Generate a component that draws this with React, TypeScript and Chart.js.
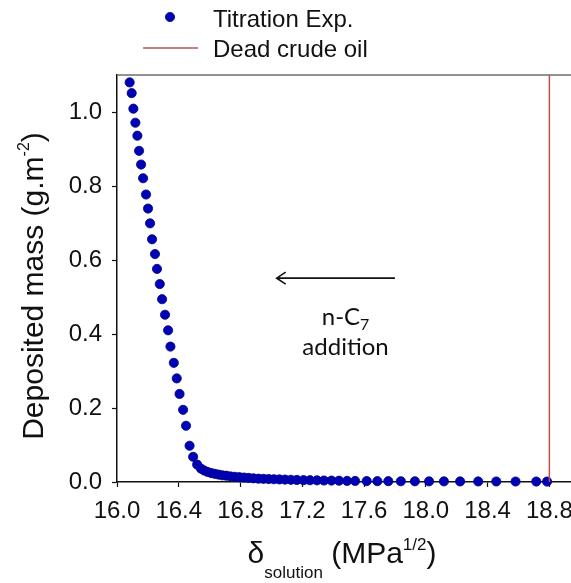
import React, { useEffect, useRef } from "react";
import { Chart, registerables } from "chart.js";

Chart.register(...registerables);

// Titration experiment: solubility parameter of the solution vs deposited mass
const titrationDelta = [
  16.082, 16.095, 16.106, 16.119, 16.132, 16.143, 16.156, 16.169, 16.188, 16.201,
  16.214, 16.227, 16.246, 16.259, 16.277, 16.292, 16.311, 16.331, 16.346, 16.368,
  16.387, 16.405, 16.428, 16.447, 16.47, 16.493, 16.519,
  16.544, 16.565, 16.588, 16.611, 16.634, 16.658, 16.682, 16.708, 16.735, 16.763,
  16.792, 16.822, 16.852, 16.883, 16.916, 16.948, 16.982, 17.016, 17.052, 17.088,
  17.126, 17.165, 17.208, 17.25, 17.295, 17.34, 17.389, 17.438, 17.49, 17.542,
  17.617, 17.686, 17.757, 17.838, 17.929, 18.021, 18.117, 18.222, 18.339, 18.456,
  18.581, 18.715, 18.785,
];
const titrationMass = [
  1.08, 1.051, 1.009, 0.971, 0.936, 0.895, 0.858, 0.821, 0.777, 0.739,
  0.699, 0.656, 0.616, 0.576, 0.535, 0.494, 0.452, 0.41, 0.366, 0.322,
  0.28, 0.238, 0.195, 0.152, 0.098, 0.068, 0.047,
  0.036, 0.031, 0.027, 0.024, 0.022, 0.02, 0.018, 0.017, 0.015, 0.014,
  0.013, 0.012, 0.011, 0.01, 0.009, 0.0085, 0.008, 0.0075, 0.007, 0.0065,
  0.006, 0.0055, 0.005, 0.0048, 0.0045, 0.004, 0.0038, 0.0035, 0.003, 0.0028,
  0.0025, 0.0023, 0.0022, 0.002, 0.0019, 0.0018, 0.0017, 0.0016, 0.0015, 0.0014,
  0.0013, 0.0012, 0.0012,
];

// Dead crude oil reference line
const deadOilDelta = [18.8, 18.8];
const deadOilMass = [0, 1.1];

const xTickValues = [16.0, 16.4, 16.8, 17.2, 17.6, 18.0, 18.4, 18.8];
const yTickValues = [0.0, 0.2, 0.4, 0.6, 0.8, 1.0];

const SANS = "'Liberation Sans', Arial, sans-serif";
const NOTE_FONT = "Lato, 'Open Sans', sans-serif";
const DOT_FILL = "#0000B4";
const DOT_EDGE = "#000088";
const OIL_RED = "#C0504D";

type Run = { text: string; size: number; shift: number };

// draws a run of text pieces (normal / sub / superscript) starting at x
function drawRuns(ctx: CanvasRenderingContext2D, runs: Run[], x: number, baseline: number) {
  let cx = x;
  for (const r of runs) {
    ctx.font = `${r.size}px ${SANS}`;
    ctx.fillText(r.text, cx, baseline + r.shift);
    cx += ctx.measureText(r.text).width;
  }
}
function runsWidth(ctx: CanvasRenderingContext2D, runs: Run[]) {
  let w = 0;
  for (const r of runs) {
    ctx.font = `${r.size}px ${SANS}`;
    w += ctx.measureText(r.text).width;
  }
  return w;
}

const decorations = {
  id: "decorations",
  afterDraw(chart: any) {
    const { ctx, chartArea, scales } = chart;
    const xs = scales.x;
    const ys = scales.y;
    ctx.save();

    // top frame
    ctx.strokeStyle = "#6e6e6e";
    ctx.lineWidth = 1.5;
    ctx.beginPath();
    ctx.moveTo(chartArea.left, chartArea.top);
    ctx.lineTo(chartArea.right, chartArea.top);
    ctx.stroke();

    // legend
    ctx.fillStyle = DOT_FILL;
    ctx.strokeStyle = DOT_EDGE;
    ctx.lineWidth = 0.8;
    ctx.beginPath();
    ctx.arc(170, 17, 4.6, 0, Math.PI * 2);
    ctx.fill();
    ctx.stroke();
    ctx.strokeStyle = OIL_RED;
    ctx.lineWidth = 1.5;
    ctx.beginPath();
    ctx.moveTo(143, 48);
    ctx.lineTo(198, 48);
    ctx.stroke();
    ctx.fillStyle = "#111";
    ctx.textBaseline = "alphabetic";
    ctx.textAlign = "left";
    ctx.font = `24px ${SANS}`;
    ctx.fillText("Titration Exp.", 213, 27);
    ctx.fillText("Dead crude oil", 213, 57);

    // n-C7 addition arrow
    const ay = ys.getPixelForValue(0.551);
    const ax0 = xs.getPixelForValue(17.8);
    const ax1 = xs.getPixelForValue(17.034);
    ctx.strokeStyle = "#111";
    ctx.lineWidth = 1.6;
    ctx.beginPath();
    ctx.moveTo(ax0, ay);
    ctx.lineTo(ax1, ay);
    ctx.moveTo(ax1 + 9, ay - 6);
    ctx.lineTo(ax1, ay);
    ctx.lineTo(ax1 + 9, ay + 6);
    ctx.stroke();

    const cx = xs.getPixelForValue(17.48);
    ctx.fillStyle = "#111";
    ctx.font = `24px ${NOTE_FONT}`;
    const main = "n-C";
    const wMain = ctx.measureText(main).width;
    ctx.font = `16px ${NOTE_FONT}`;
    const wSub = ctx.measureText("7").width;
    const start = cx - (wMain + wSub) / 2;
    const b1 = ys.getPixelForValue(0.425);
    ctx.font = `24px ${NOTE_FONT}`;
    ctx.fillText(main, start, b1);
    ctx.font = `16px ${NOTE_FONT}`;
    ctx.fillText("7", start + wMain, b1 + 5);
    ctx.font = `24px ${NOTE_FONT}`;
    ctx.textAlign = "center";
    ctx.fillText("addition", cx, ys.getPixelForValue(0.344));
    ctx.textAlign = "left";

    // x axis title, centred under the axis
    const xRuns: Run[] = [
      { text: "\u03b4", size: 30, shift: 0 },
      { text: "solution", size: 17, shift: 15 },
      { text: " (MPa", size: 30, shift: 0 },
      { text: "1/2", size: 17, shift: -13 },
      { text: ")", size: 30, shift: 0 },
    ];
    const xw = runsWidth(ctx, xRuns);
    drawRuns(ctx, xRuns, 342 - xw / 2, 563);

    // y axis title, centred along the axis
    const yRuns: Run[] = [
      { text: "Deposited mass (g.m", size: 30, shift: 0 },
      { text: "-2", size: 16, shift: -14 },
      { text: ")", size: 30, shift: 0 },
    ];
    const yw = runsWidth(ctx, yRuns);
    ctx.translate(43, 286);
    ctx.rotate(-Math.PI / 2);
    drawRuns(ctx, yRuns, -yw / 2, 0);

    ctx.restore();
  },
};

export default function App() {
  const ref = useRef<HTMLCanvasElement | null>(null);

  useEffect(() => {
    document.body.style.margin = "0";
    const canvas = ref.current;
    if (!canvas) return;

    const tickFont = { family: SANS, size: 24 };
    const chart = new Chart(canvas, {
      type: "scatter",
      data: {
        datasets: [
          {
            type: "line",
            label: "Dead crude oil",
            data: deadOilDelta.map((x, i) => ({ x, y: deadOilMass[i] })),
            borderColor: OIL_RED,
            borderWidth: 1.5,
            pointRadius: 0,
            showLine: true,
            fill: false,
          } as any,
          {
            label: "Titration Exp.",
            data: titrationDelta.map((x, i) => ({ x, y: titrationMass[i] })),
            backgroundColor: DOT_FILL,
            borderColor: DOT_EDGE,
            borderWidth: 0.8,
            pointRadius: 4.6,
            clip: false,
          } as any,
        ],
      },
      options: {
        responsive: false,
        animation: false,
        devicePixelRatio: 1,
        layout: { padding: { top: 75, left: 0, right: 0, bottom: 0 }, autoPadding: false },
        plugins: { legend: { display: false }, tooltip: { enabled: false } },
        scales: {
          x: {
            type: "linear",
            min: 16,
            max: 18.94,
            grid: { drawOnChartArea: false, drawTicks: true, tickLength: 5, tickColor: "#111", tickWidth: 1.2 },
            border: { color: "#111", width: 1.5 },
            ticks: {
              font: tickFont,
              color: "#111",
              padding: 10,
              maxRotation: 0,
              autoSkip: false,
              callback: (v: any) => Number(v).toFixed(1),
            },
            afterBuildTicks: (axis: any) => {
              axis.ticks = xTickValues.map((value) => ({ value }));
            },
            afterFit: (axis: any) => {
              axis.height = 101;
              axis.paddingLeft = 0;
              axis.paddingRight = 0;
            },
          },
          y: {
            type: "linear",
            min: 0,
            max: 1.1,
            grid: { drawOnChartArea: false, drawTicks: true, tickLength: 5, tickColor: "#111", tickWidth: 1.2 },
            border: { color: "#111", width: 1.5 },
            ticks: {
              font: tickFont,
              color: "#111",
              padding: 10,
              autoSkip: false,
              callback: (v: any) => Number(v).toFixed(1),
            },
            afterBuildTicks: (axis: any) => {
              axis.ticks = yTickValues.map((value) => ({ value }));
            },
            afterFit: (axis: any) => {
              axis.width = 117;
              axis.paddingTop = 0;
              axis.paddingBottom = 0;
            },
          },
        },
      },
      plugins: [decorations],
    });

    return () => chart.destroy();
  }, []);

  return (
    <canvas
      ref={ref}
      width={571}
      height={583}
      style={{ display: "block", width: 571, height: 583 }}
    />
  );
}
